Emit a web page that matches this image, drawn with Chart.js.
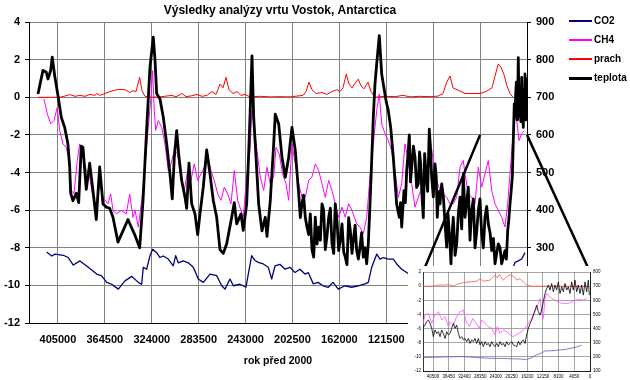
<!DOCTYPE html>
<html>
<head>
<meta charset="utf-8">
<script src="https://cdn.jsdelivr.net/npm/chart.js@4.4.1/dist/chart.umd.min.js"></script>
<style>
body { margin:0; background:#fff; }
#wrap { position:relative; width:630px; height:380px; font-family:"Liberation Sans", Arial, sans-serif; }
#mainChart { position:absolute; left:0; top:0; }
#insetChart { position:absolute; left:408px; top:266px; background:#fff; }
.leg { position:absolute; left:569px; height:14px; line-height:14px; font-size:10px; font-weight:bold; color:#000; white-space:nowrap; }
.leg span { display:inline-block; width:23px; vertical-align:middle; margin-right:2px; }
</style>
</head>
<body>
<div id="wrap">
<canvas id="mainChart" width="630" height="380"></canvas>
<canvas id="insetChart" width="204" height="114"></canvas>
<div class="leg" style="top:14px"><span style="border-top:2px solid #000080"></span>CO2</div>
<div class="leg" style="top:33px"><span style="border-top:2px solid #ff00ff"></span>CH4</div>
<div class="leg" style="top:52px"><span style="border-top:2px solid #ff0000"></span>prach</div>
<div class="leg" style="top:71px"><span style="border-top:3px solid #000"></span>teplota</div>
</div>
<script>
// years before 2000 on the x axis (reversed)

var yearTicks = [0, 40500, 81000, 121500, 162000, 202500, 243000, 283500, 324000, 364500, 405000];
var insetTicks = [0, 4050, 8100, 12150, 16200, 20250, 24300, 28350, 32400, 36450, 40500];

// teplota (deg C, left axis)
var tempYears = [
422250, 417930, 415080, 413620, 411290, 409900, 407830, 404980, 402130, 399200,
396350, 394880, 394020, 392030, 389180, 387110, 384860, 383400, 380550, 377610,
374770, 371920, 368980, 366130, 363280, 360340, 357490, 353170, 348850, 344540,
341690, 338750, 334430, 331550, 328620, 325540, 322690, 321220, 319760, 316900,
314050, 311110, 308260, 306280, 304550, 302480, 300490, 298170, 295320, 293850,
291860, 289530, 286680, 284350, 282360, 279520, 276580, 273730, 270880, 267940,
265090, 262240, 259300, 254980, 252740, 250670, 246960, 244970, 242040, 240660,
239190, 237460, 236000, 234620, 231680, 228830, 225980, 224510, 221660, 218730,
217350, 214410, 211560, 208710, 205780, 202930, 200070, 197140, 195700, 194290,
192900, 191440, 190000, 188500, 187100, 185650, 184190, 182800, 181300, 179870,
178400, 177020, 175600, 174170, 172700, 171230, 169800, 168380, 166900, 165530,
164000, 162600, 161200, 159750, 158300, 156900, 155430, 154000, 152580, 151100,
149650, 148400, 147050, 145600, 144200, 142800, 141350, 139900, 138420, 137040,
135570, 134100, 132720, 131250, 129780, 127540, 125470, 124090, 121750, 119770,
117700, 115450, 112520, 110270, 109200, 108200, 106210, 105000, 103880, 102700,
101630, 100600, 99560, 98100, 96710, 95300, 93860, 92800, 91790, 90700,
89540, 88400, 87210, 85800, 84360, 83300, 82290, 80900, 79440, 78400,
77460, 76300, 75120, 73660, 72200, 70810, 69350, 68200, 67100, 66400,
65630, 64600, 63640, 62100, 60700, 59300, 57850, 56400, 55000, 53540,
52100, 50690, 49200, 47750, 46300, 44900, 43500, 42050, 40600, 39120,
37700, 36270, 34800, 33420, 31900, 30480, 29000, 27630, 26200, 24780,
23300, 21850, 20400, 19000, 17800, 16670, 15700, 14680, 13700, 12690,
10970, 10400, 9760, 9200, 8600, 8100, 7510, 6800, 6040, 5300,
4580, 3900, 3200, 2400, 1730, 1300, 900, 260];
var tempValues = [
0.17, 1.43, 1.33, 0.97, 1.42, 2.13, 1.15, 0.09, -1.06, -1.6,
-2.5, -3.7, -5.1, -5.5, -5.1, -5.6, -2.6, -2.66, -4.9, -3.5,
-4.96, -6.5, -3.7, -5.67, -5.84, -5.9, -6.38, -7.7, -7.1, -6.5,
-6.9, -7.3, -8.0, -5.5, -1.95, 1.6, 3.2, 2.0, 0.2, -0.09,
-1.06, -2.48, -4.1, -5.4, -3.19, -1.77, -3.19, -4.43, -5.31, -5.9,
-3.5, -5.67, -6.2, -7.3, -6.2, -4.78, -2.8, -4.07, -5.49, -6.38,
-8.1, -8.3, -7.79, -6.38, -5.6, -6.73, -6.2, -7.08, -5.67, -3.5,
-1.06, 2.2, -1.06, -2.48, -5.7, -7.1, -6.38, -7.4, -5.49, -2.5,
-0.9, -1.42, -3.19, -4.25, -3.19, -1.6, -2.83, -5.14, -6.4, -5.67,
-5.2, -6.38, -6.9, -7.3, -6.2, -8.1, -8.5, -6.38, -7.8, -6.9,
-7.6, -5.67, -6.0, -8.1, -7.4, -6.38, -5.9, -7.79, -8.3, -5.67,
-6.6, -8.15, -7.6, -6.73, -8.2, -8.5, -8.9, -6.4, -7.08, -8.3,
-7.44, -6.8, -8.15, -8.6, -7.97, -7.2, -8.5, -8.0, -8.85, -7.79,
-5.7, -3.37, -1.06, 0.71, 1.77, 3.28, 1.24, 0.71, -0.18, -0.71,
-1.6, -3.19, -5.7, -6.38, -5.6, -6.9, -4.96, -5.6, -3.9, -3.0,
-2.0, -4.5, -3.72, -2.6, -3.19, -4.8, -4.6, -2.9, -3.54, -5.2,
-6.4, -3.0, -4.07, -5.0, -1.7, -2.8, -4.25, -5.3, -3.54, -4.2,
-6.38, -5.0, -5.67, -4.6, -5.3, -6.73, -7.97, -6.2, -7.26, -7.9,
-8.85, -7.2, -6.38, -8.4, -7.79, -6.2, -5.31, -7.0, -4.07, -6.38,
-5.6, -4.78, -7.6, -6.02, -5.4, -8.0, -7.2, -6.02, -5.4, -7.26,
-8.0, -6.38, -5.8, -6.73, -7.2, -8.15, -7.5, -8.85, -8.3, -7.79,
-8.0, -8.85, -8.5, -8.15, -8.6, -7.08, -6.5, -5.67, -5.0, -4.25,
-0.35, -1.0, 0.18, 0.8, -1.2, -0.5, 2.1, -1.0, -0.35, -1.3,
1.06, -0.3, -1.6, 0.4, 1.24, -1.2, 0.3, 1.06];

// CH4 (ppbv, right axis)
var ch4Years = [
417070, 414220, 411290, 408440, 405590, 403520, 400670, 397820, 394880, 393500,
391160, 388320, 386250, 383400, 380550, 377610, 374770, 371920, 368980, 366130,
361810, 359480, 357490, 354640, 350320, 346000, 343070, 340220, 338490, 335640,
332700, 329860, 327010, 324680, 323210, 321830, 320620, 318380, 315440, 312590,
309740, 307410, 304550, 301620, 298770, 295930, 293000, 290140, 287290, 284350,
281500, 278650, 275720, 272870, 270020, 267080, 264230, 261380, 258450, 255600,
252740, 249810, 246960, 244970, 242040, 239190, 237460, 236000, 233150, 230300,
227360, 224510, 221660, 218730, 216740, 213890, 210950, 208100, 205780, 202930,
200070, 197140, 194290, 191440, 188500, 185650, 182800, 179870, 177020, 174170,
171230, 168380, 165530, 162600, 159750, 156900, 153970, 151110, 147050, 144200,
141350, 138420, 135570, 132720, 129780, 127540, 125470, 122620, 119770, 116830,
113980, 111130, 108200, 105350, 102500, 99560, 96710, 93860, 90930, 88080,
85220, 83760, 80910, 77980, 75120, 72270, 69350, 66490, 63640, 60700,
57850, 55000, 53540, 50690, 47750, 44900, 42050, 39120, 36270, 33420,
30480, 27630, 24780, 21850, 19000, 16670, 14680, 12690, 10970, 8890,
6910, 4580, 2330];
var ch4Values = [
695, 656, 629, 638, 673, 612, 576, 567, 523, 453,
443, 532, 576, 541, 505, 488, 434, 417, 470, 434,
417, 443, 400, 390, 399, 390, 443, 381, 400, 355,
426, 514, 620, 700, 771, 665, 612, 638, 620, 576,
505, 523, 558, 549, 488, 452, 505, 479, 523, 479,
496, 514, 549, 505, 479, 443, 426, 461, 443, 417,
505, 426, 399, 381, 488, 558, 665, 629, 558, 488,
452, 514, 470, 488, 567, 549, 496, 470, 426, 576,
523, 470, 434, 434, 479, 488, 523, 505, 470, 434,
479, 452, 417, 381, 408, 381, 417, 399, 364, 355,
337, 381, 488, 576, 665, 709, 629, 603, 585, 558,
505, 434, 470, 576, 532, 470, 408, 434, 461, 488,
523, 594, 532, 479, 452, 443, 434, 417, 417, 434,
514, 532, 496, 443, 434, 417, 514, 461, 496, 532,
452, 417, 399, 381, 355, 417, 496, 576, 656, 638,
585, 603, 611];

// prach (dust, left axis)
var dustYears = [
422250, 403260, 399800, 394880, 390300, 385980, 381670, 377350, 373030, 371300,
368710, 364400, 360080, 355760, 351440, 347120, 342800, 340220, 337630, 334430,
332450, 329860, 325540, 316900, 306540, 303090, 297910, 294450, 289270, 284950,
280640, 276320, 272000, 268550, 265090, 262500, 259910, 257320, 253870, 250410,
246960, 243510, 239190, 230550, 221920, 213280, 204650, 196010, 193420, 190830,
188240, 185650, 182200, 177020, 172700, 168380, 164070, 161470, 158880, 156040,
153700, 151110, 148520, 145670, 143340, 140750, 137300, 134710, 131250, 122620,
113980, 107070, 101030, 92400, 83760, 76850, 72540, 69350, 66490, 63900,
60450, 57850, 53540, 47490, 40580, 35400, 30220, 27630, 24780, 22450,
19860, 17270, 14680, 12090];
var dustValues = [
0, 0, 0.05, 0.14, 0.05, 0.1, 0.05, 0.15, 0.1, 0.2,
0.1, 0.2, 0.3, 0.38, 0.42, 0.4, 0.25, 0.35, 0.3, 1.06,
0.35, 0.05, 0, 0.02, 0.1, 0.02, 0.2, 0.03, 0.08, 0.15,
0.05, 0.1, 0.3, 0.15, 0.7, 0.5, 1.06, 0.4, 0.2, 0.3,
0.1, 0.15, 0.02, 0.05, 0.02, 0.03, 0.02, 0.08, 0.1, 0.3,
0.8, 0.4, 0.2, 0.25, 0.15, 0.3, 0.4, 0.3, 0.5, 1.24,
0.7, 0.5, 0.75, 0.96, 0.6, 0.45, 0.8, 0.3, 0, 0.05,
0.03, 0.1, 0.02, 0.05, 0.03, 0.06, 0.2, 0.8, 1.13, 0.5,
0.4, 0.33, 0.2, 0.2, 0.2, 0.3, 0.5, 1.13, 1.77, 1.6,
1.2, 0.6, 0.2, 0];

// CO2 (ppmv, right axis)
var co2Years = [
414740, 410420, 407570, 400400, 396080, 391760, 385980, 378820, 371570, 367250,
362930, 358610, 352910, 347120, 341330, 335640, 332700, 331330, 328400, 325540,
323210, 319760, 316900, 314050, 309740, 305430, 303350, 301100, 296780, 292460,
288140, 283830, 279520, 273730, 267940, 263620, 260770, 256450, 253600, 247820,
242640, 240660, 237720, 234870, 232020, 227700, 223380, 220460, 217600, 213280,
208960, 204650, 200330, 196010, 191690, 188850, 184530, 180470, 176150, 171570,
167520, 162940, 157160, 151370, 145670, 139890, 137040, 134100, 129780, 126930,
124090, 119770, 115450, 112520, 108200, 103880, 99560, 96710, 83760, 66490,
49220, 31950, 19000, 10360, 7510, 4580, 1730];
var co2Values = [
289, 278, 283, 280, 274, 254, 265, 248, 230, 225,
208, 203, 190, 212, 224, 208, 203, 248, 243, 279,
296, 287, 274, 278, 270, 252, 279, 260, 265, 260,
248, 217, 208, 230, 226, 199, 190, 217, 199, 203,
195, 230, 279, 266, 261, 257, 248, 217, 252, 256,
243, 248, 234, 243, 230, 234, 204, 208, 199, 195,
208, 190, 199, 195, 199, 204, 208, 248, 283, 270,
274, 270, 270, 257, 243, 234, 228, 232, 240, 220,
205, 195, 188, 261, 265, 270, 287];

// inset: last ~43000 years in more detail
var insetTempYears = [
43170, 42570, 42140, 41710, 41280, 40850, 40420, 39990, 39560, 39130,
38700, 38270, 37840, 37410, 36980, 36550, 36120, 35690, 35260, 34830,
34400, 33970, 33540, 33110, 32680, 32250, 31820, 31390, 30960, 30530,
30100, 29670, 29240, 28810, 28380, 27950, 27520, 27090, 26660, 26230,
25800, 25370, 24940, 24510, 24080, 23650, 23220, 22790, 22360, 21930,
21500, 21070, 20640, 20210, 19780, 18920, 18490, 18060, 17630, 17200,
16770, 16340, 15910, 15480, 15050, 14620, 14190, 13760, 13330, 12900,
12470, 12040, 11610, 11180, 10750, 10320, 9890, 9460, 9030, 8600,
8170, 7740, 7310, 6880, 6450, 6020, 5590, 5160, 4730, 4300,
3870, 3440, 3010, 2580, 2150, 1720, 1290, 860, 430, 170];
var insetTempValues = [
-5.97, -5.5, -5.0, -4.8, -5.27, -5.97, -7.14, -6.2, -6.7, -6.44,
-7.14, -6.2, -6.7, -7.4, -6.44, -6.9, -6.7, -5.97, -5.27, -5.97,
-5.5, -6.7, -7.4, -7.14, -7.6, -7.4, -7.85, -7.4, -8.1, -7.6,
-7.85, -7.4, -8.1, -7.4, -8.3, -7.85, -8.56, -7.85, -8.3, -8.1,
-8.56, -7.85, -8.3, -8.56, -8.1, -8.56, -7.85, -8.3, -8.1, -8.56,
-7.85, -8.3, -8.1, -7.85, -8.3, -8.56, -7.8, -8.3, -7.85, -7.6,
-8.1, -6.9, -5.97, -5.27, -4.8, -4.1, -3.38, -2.7, -3.6, -4.1,
-3.38, -2.2, -1.04, -0.33, 0.14, -0.56, 0.37, -0.8, 0.14, -0.56,
0.6, -1.04, -0.1, -0.8, 0.37, -0.56, -0.1, -1.04, 0.6, -0.56,
0.85, -0.8, 0.14, -1.04, 0.14, -1.27, 0.6, -0.8, 0.85, -1.27];

var insetCh4Years = [
43170, 42570, 41710, 40850, 39990, 39130, 38270, 37410, 36550, 36120,
35260, 34400, 33540, 32680, 31990, 31130, 30270, 29410, 28550, 27950,
27090, 26230, 25370, 24510, 23910, 23220, 22360, 21500, 20640, 19780,
18490, 17630, 16770, 15910, 15050, 14190, 13330, 12900, 12470, 12040,
11610, 11180, 10750, 9890, 9030, 8170, 7310, 5590, 4730, 3870,
3010, 1720, 860];
var insetCh4Values = [
425, 496, 507, 437, 496, 519, 460, 484, 413, 449,
425, 484, 519, 531, 449, 413, 472, 437, 402, 460,
437, 413, 402, 355, 413, 366, 390, 378, 355, 343,
366, 378, 402, 437, 472, 519, 578, 613, 519, 472,
613, 648, 636, 613, 601, 589, 578, 578, 589, 601,
606, 601, 613];

var insetDustYears = [43170, 40420, 39560, 37410, 36550, 35260, 34400, 32680, 30960, 29240,
28380, 27520, 25800, 24510, 23910, 23400, 22360, 21500, 20640, 19780,
18920, 18060, 17200, 16340, 15050, 860];
var insetDustValues = [0, 0, 0.14, 0.14, 0.23, 0, 0.23, 0.51, 0.6, 0.7,
1.07, 0.7, 0.85, 1.55, 1.17, 1.64, 0.85, 1.31, 1.64, 1.4,
0.85, 1.07, 0.6, 0.14, 0, 0];

var insetCo2Years = [43170, 36550, 32680, 29240, 25800, 21930, 19780, 18060, 16340, 15050,
13760, 12470, 11610, 9890, 8170, 6450, 4730, 3440, 2150];
var insetCo2Values = [195, 200, 202, 195, 190, 188, 186, 185, 180, 195,
214, 228, 242, 243, 248, 252, 262, 270, 282];


function pts(xs, ys) {
    return xs.map(function(x, i) { return {x: x, y: ys[i]}; });
}

Chart.defaults.font.family = "'Liberation Sans', Arial, sans-serif";
Chart.defaults.color = '#000';
Chart.defaults.animation = false;
Chart.defaults.events = [];
Chart.defaults.plugins.legend.display = false;
Chart.defaults.plugins.tooltip.enabled = false;
Chart.defaults.elements.point.radius = 0;
Chart.defaults.elements.line.tension = 0;
Chart.defaults.elements.line.borderJoinStyle = 'round';

var gridGrey = '#808080';

// inset first, so the callout lines can find its corners
var insetCanvas = document.getElementById('insetChart');
var tiny = {size: 4.5};

var insetChart = new Chart(insetCanvas, {
    type: 'line',
    data: {
        datasets: [
            {data: pts(insetTempYears, insetTempValues), borderColor: '#000', borderWidth: 0.8, yAxisID: 'y'},
            {data: pts(insetDustYears, insetDustValues), borderColor: '#ff5050', borderWidth: 0.8, yAxisID: 'y'},
            {data: pts(insetCh4Years, insetCh4Values), borderColor: '#ff50ff', borderWidth: 0.8, yAxisID: 'yR'},
            {data: pts(insetCo2Years, insetCo2Values), borderColor: '#5a5ac8', borderWidth: 0.8, yAxisID: 'yR'}
        ]
    },
    options: {
        responsive: false,
        devicePixelRatio: 1,
        layout: {padding: {top: 6, left: 0, right: 0, bottom: 0}},
        scales: {
            x: {
                type: 'linear', reverse: true, min: 0, max: 43100,
                afterBuildTicks: function(s) { s.ticks = insetTicks.map(function(v) { return {value: v}; }); },
                afterFit: function(s) { s.height = 9; },
                grid: {color: gridGrey, lineWidth: 0.7, drawTicks: false},
                border: {color: '#000', width: 0.8},
                ticks: {padding: 3, font: tiny, maxRotation: 0, autoSkip: false,
                    callback: function(v) { return String(v); }}
            },
            y: {
                position: 'left', min: -12, max: 2,
                afterFit: function(s) { s.width = 15; },
                grid: {color: gridGrey, lineWidth: 0.7, drawTicks: false},
                border: {color: '#000', width: 0.8},
                ticks: {stepSize: 2, padding: 2, font: tiny}
            },
            yR: {
                position: 'right', min: 100, max: 800,
                afterFit: function(s) { s.width = 22; },
                grid: {drawOnChartArea: false, drawTicks: false},
                border: {color: '#000', width: 0.8},
                ticks: {stepSize: 100, padding: 3, font: tiny}
            }
        }
    }
});

var ia = insetChart.chartArea;
var cornerL = {x: insetCanvas.offsetLeft + ia.left, y: insetCanvas.offsetTop + ia.top};
var cornerR = {x: insetCanvas.offsetLeft + ia.right, y: insetCanvas.offsetTop + ia.top};

// the two thick lines from the main plot down to the inset
var calloutLines = {
    id: 'calloutLines',
    afterDraw: function(chart) {
        var c = chart.ctx, sx = chart.scales.x, sy = chart.scales.yR;
        var y0 = sy.getPixelForValue(600);
        c.save();
        c.strokeStyle = '#000';
        c.lineWidth = 2.5;
        c.beginPath();
        c.moveTo(sx.getPixelForValue(40500), y0);
        c.lineTo(cornerL.x, cornerL.y);
        c.moveTo(sx.getPixelForValue(0), y0);
        c.lineTo(cornerR.x, cornerR.y);
        c.stroke();
        c.restore();
    }
};

var labelFont = {size: 11, weight: 'bold'};

var mainChart = new Chart(document.getElementById('mainChart'), {
    type: 'line',
    data: {
        datasets: [
            {label: 'teplota', data: pts(tempYears, tempValues), borderColor: '#000', borderWidth: 2.8, yAxisID: 'y'},
            {label: 'prach', data: pts(dustYears, dustValues), borderColor: '#ff0000', borderWidth: 1, yAxisID: 'y'},
            {label: 'CH4', data: pts(ch4Years, ch4Values), borderColor: '#ff00ff', borderWidth: 1, yAxisID: 'yR'},
            {label: 'CO2', data: pts(co2Years, co2Values), borderColor: '#000080', borderWidth: 1.3, yAxisID: 'yR'}
        ]
    },
    plugins: [calloutLines],
    options: {
        responsive: false,
        devicePixelRatio: 1,
        layout: {padding: {top: 0, left: 0, right: 70, bottom: 0}},
        plugins: {
            title: {
                display: true,
                text: 'Výsledky analýzy vrtu Vostok, Antarctica',
                color: '#000',
                font: {size: 12, weight: 'bold'},
                padding: {top: 3, bottom: 4.6}
            }
        },
        scales: {
            x: {
                type: 'linear', reverse: true, min: 0, max: 430000,
                afterBuildTicks: function(s) { s.ticks = yearTicks.map(function(v) { return {value: v}; }); },
                afterFit: function(s) { s.height = 57; },
                grid: {color: gridGrey, drawTicks: false},
                border: {color: '#000'},
                ticks: {padding: 10, font: labelFont, maxRotation: 0, autoSkip: false,
                    // 81000, 40500 and 0 sit under the inset
                    callback: function(v) { return v >= 121500 ? String(v) : ''; }},
                title: {display: true, text: 'rok před 2000', color: '#000',
                    font: {size: 10.5, weight: 'bold'}, padding: {top: 0, bottom: 12.5}}
            },
            y: {
                position: 'left', min: -12, max: 4,
                afterFit: function(s) { s.width = 29; },
                grid: {color: gridGrey, tickLength: 4, tickColor: '#000'},
                border: {color: '#000'},
                ticks: {stepSize: 2, padding: 5, font: labelFont}
            },
            yR: {
                position: 'right', min: 100, max: 900,
                afterFit: function(s) { s.width = 33; },
                grid: {drawOnChartArea: false, tickLength: 4, tickColor: '#000'},
                border: {color: '#000'},
                ticks: {stepSize: 100, padding: 5, font: labelFont,
                    callback: function(v) { return v >= 300 ? String(v) : ''; }}
            }
        }
    }
});
</script>
</body>
</html>
